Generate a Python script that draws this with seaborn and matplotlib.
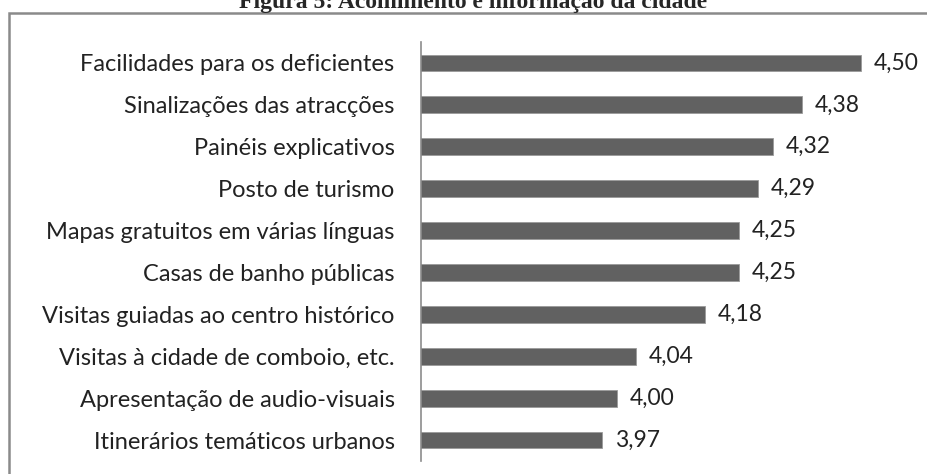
import pandas as pd
import matplotlib.pyplot as plt
import seaborn as sns
from matplotlib.patches import Rectangle

# Dados
categorias = [
    'Facilidades para os deficientes',
    'Sinalizações das atracções',
    'Painéis explicativos',
    'Posto de turismo',
    'Mapas gratuitos em várias línguas',
    'Casas de banho públicas',
    'Visitas guiadas ao centro histórico',
    'Visitas à cidade de comboio, etc.',
    'Apresentação de audio-visuais',
    'Itinerários temáticos urbanos',
]
medias = [4.50, 4.38, 4.32, 4.29, 4.25, 4.25, 4.18, 4.04, 4.00, 3.97]
rotulos = ['4,50', '4,38', '4,32', '4,29', '4,25', '4,25', '4,18', '4,04', '4,00', '3,97']

df = pd.DataFrame({'categoria': categorias, 'media': medias})

sns.set_style('white')
plt.rcParams['font.family'] = ['Lato', 'DejaVu Sans']

W, H = 927, 474
fig = plt.figure(figsize=(W / 100, H / 100), dpi=100)
# área do gráfico em pixels: x 421..900, y 42..461
ax = fig.add_axes([421 / W, 1 - 461 / H, (900 - 421) / W, (461 - 42) / H])

sns.barplot(data=df, x='media', y='categoria', color='#616161', width=0.4,
            edgecolor='#9a9a9a', linewidth=0.6, saturation=1, ax=ax)

ax.set_xlim(3.6, 3.6 + (900 - 421) / 489)
for i, (v, r) in enumerate(zip(medias, rotulos)):
    ax.text(v + 0.026, i, r, va='center', ha='left', fontsize=16.5, color='#222222')

ax.set_xlabel('')
ax.set_ylabel('')
ax.set_xticks([])
ax.tick_params(axis='y', length=0, pad=19, labelsize=17, labelcolor='#222222')
for s in ['top', 'right', 'bottom']:
    ax.spines[s].set_visible(False)
ax.spines['left'].set_color('#8c8c8c')
ax.spines['left'].set_linewidth(1.2)

# moldura cinzenta (cortada à direita e em baixo)
fig.add_artist(Rectangle((8.5 / W, -0.1), 1.0, 1 + 0.1 - 13 / H,
                         transform=fig.transFigure, fill=False,
                         edgecolor='#8a8a8a', linewidth=1.8))

# título (parcialmente cortado no topo, como no original)
fig.text(473 / W, 1 - 8 / H, 'Figura 5: Acolhimento e informação da cidade',
         ha='center', va='baseline', fontsize=17, fontweight='bold',
         family=['Liberation Serif', 'DejaVu Serif'])

fig.savefig('out.png', dpi=100)
